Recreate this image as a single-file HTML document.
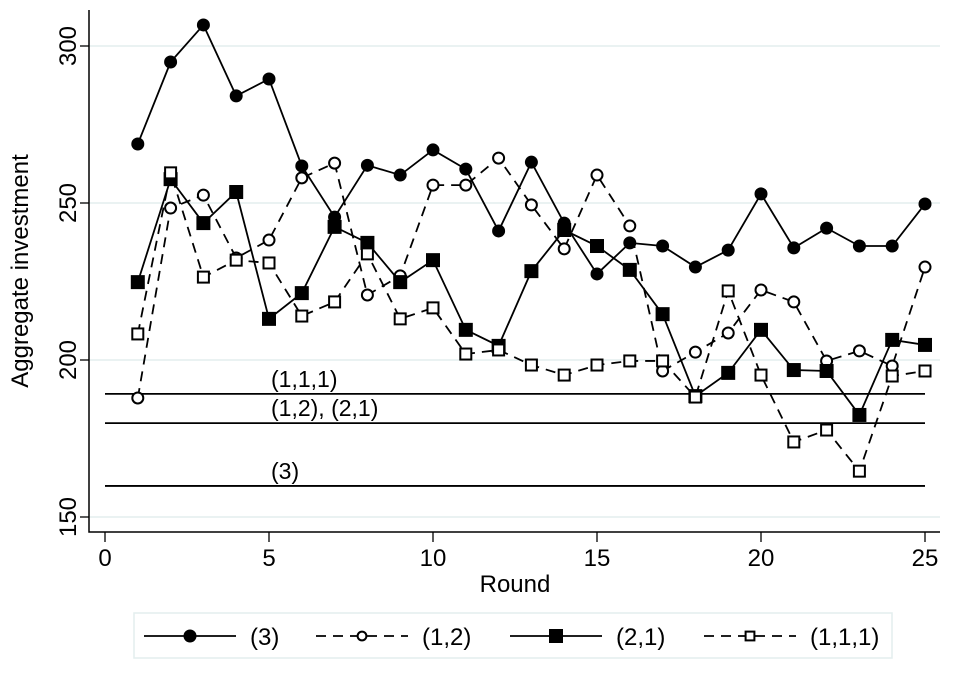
<!DOCTYPE html>
<html><head><meta charset="utf-8"><style>
body{margin:0;background:#fff;}
svg{display:block;font-family:"Liberation Sans",sans-serif;}
</style></head><body>
<svg id="chart" width="957" height="681" viewBox="0 0 957 681"></svg>
<script>
const rounds=[1,2,3,4,5,6,7,8,9,10,11,12,13,14,15,16,17,18,19,20,21,22,23,24,25];
const s3=[268.8,294.9,306.7,284.1,289.5,261.8,245.5,262,258.9,266.9,260.8,241.1,263,243.6,227.4,237.3,236.3,229.6,235,252.9,235.7,242,236.3,236.3,249.7];
const s12=[187.9,248.4,252.5,232.5,238.2,258,262.7,220.7,226.8,255.7,255.7,264.3,249.4,235.4,258.9,242.7,196.5,202.5,208.6,222.3,218.5,199.7,202.9,198.1,229.6];
const s21=[224.8,257.6,243.6,253.5,213.1,221.3,242.4,237.3,224.8,231.8,209.6,204.5,228.3,241.4,236.3,228.7,214.6,188.5,195.9,209.6,196.8,196.5,182.5,206.4,204.8];
const s111=[208.3,259.6,226.4,231.8,230.9,214,218.5,233.8,213.1,216.6,201.9,203.2,198.4,195.2,198.4,199.7,199.7,188.2,222,195.2,173.9,177.7,164.6,194.9,196.5];
const refVals=[189.2,179.9,159.9];
const refLabels=["(1,1,1)","(1,2), (2,1)","(3)"];
const xTicks=[0,5,10,15,20,25];
const yTicks=[150,200,250,300];
const NS="http://www.w3.org/2000/svg";
const svg=document.getElementById('chart');
const X=v=>105+v*32.8;
const Y=v=>360-(v-200)*3.14;
function mk(t,a,p){const e=document.createElementNS(NS,t);for(const k in a)e.setAttribute(k,a[k]);(p||svg).appendChild(e);return e;}
yTicks.forEach(t=>{const g=mk('line',{x1:89,x2:940,y1:Y(t),y2:Y(t),stroke:'#e3eeee','stroke-width':1.5});

});
const ax=mk('path',{d:'M89,10 V532 H940',fill:'none',stroke:'#000','stroke-width':1.5});


yTicks.forEach(t=>{mk('line',{x1:80,x2:89,y1:Y(t),y2:Y(t),stroke:'#000','stroke-width':1.3});
const tx=mk('text',{x:0,y:0,transform:`translate(76,${Y(t)}) rotate(-90)`,'text-anchor':'middle','font-size':24});tx.textContent=t;

});
xTicks.forEach(t=>{mk('line',{x1:X(t),x2:X(t),y1:532,y2:542,stroke:'#000','stroke-width':1.3});
const tx=mk('text',{x:X(t),y:566,'text-anchor':'middle','font-size':24});tx.textContent=t;

});
const xt=mk('text',{x:515,y:592,'text-anchor':'middle','font-size':24});xt.textContent='Round';


const yt=mk('text',{x:0,y:0,transform:'translate(28,271) rotate(-90)','text-anchor':'middle','font-size':24});yt.textContent='Aggregate investment';


refVals.forEach((v,i)=>{const l=mk('line',{x1:X(0),x2:X(25),y1:Y(v),y2:Y(v),stroke:'#000','stroke-width':1.8});


const t=mk('text',{x:271,y:Y(v)-7,'font-size':23});t.textContent=refLabels[i];

});
function marker(type,x,y,p,s){
 s=s||1;
 if(type==='fc')return mk('circle',{cx:x,cy:y,r:6.5,fill:'#000'},p);
 if(type==='hc')return mk('circle',{cx:x,cy:y,r:5.5*s,fill:'#fff',stroke:'#000','stroke-width':2},p);
 if(type==='fs')return mk('rect',{x:x-7,y:y-7,width:14,height:14,fill:'#000'},p);
 return mk('rect',{x:x-5.5*s,y:y-5.5*s,width:11*s,height:11*s,fill:'#fff',stroke:'#000','stroke-width':2},p);
}
const series=[[s3,'fc',null,'series-3'],[s12,'hc','10,7','series-1-2'],[s21,'fs',null,'series-2-1'],[s111,'hs','10,7','series-1-1-1']];
series.forEach(([d,m,dash,name])=>{
 const g=mk('g',{});
 
 
 const a={points:d.map((v,i)=>X(rounds[i])+','+Y(v)).join(' '),fill:'none',stroke:'#000','stroke-width':1.8};
 if(dash)a['stroke-dasharray']=dash;
 mk('polyline',a,g);
 d.forEach((v,i)=>{const e=marker(m,X(rounds[i]),Y(v),g);
 
 });
});
const lg=mk('g',{});


mk('rect',{x:134,y:613,width:758,height:45,fill:'#fff',stroke:'#e3eeee','stroke-width':1.5},lg);
const leg=[['fc',null,'(3)',144],['hc','10,7','(1,2)',316],['fs',null,'(2,1)',510],['hs','10,7','(1,1,1)',704]];
leg.forEach(([m,dash,lab,x0])=>{
 const a={x1:x0,x2:x0+92,y1:636,y2:636,stroke:'#000','stroke-width':1.8};if(dash)a['stroke-dasharray']=dash;
 mk('line',a,lg);marker(m,x0+46,636,lg,0.8);
 const t=mk('text',{x:x0+106,y:645,'font-size':24},lg);t.textContent=lab;
 
 
});
</script>
</body></html>
